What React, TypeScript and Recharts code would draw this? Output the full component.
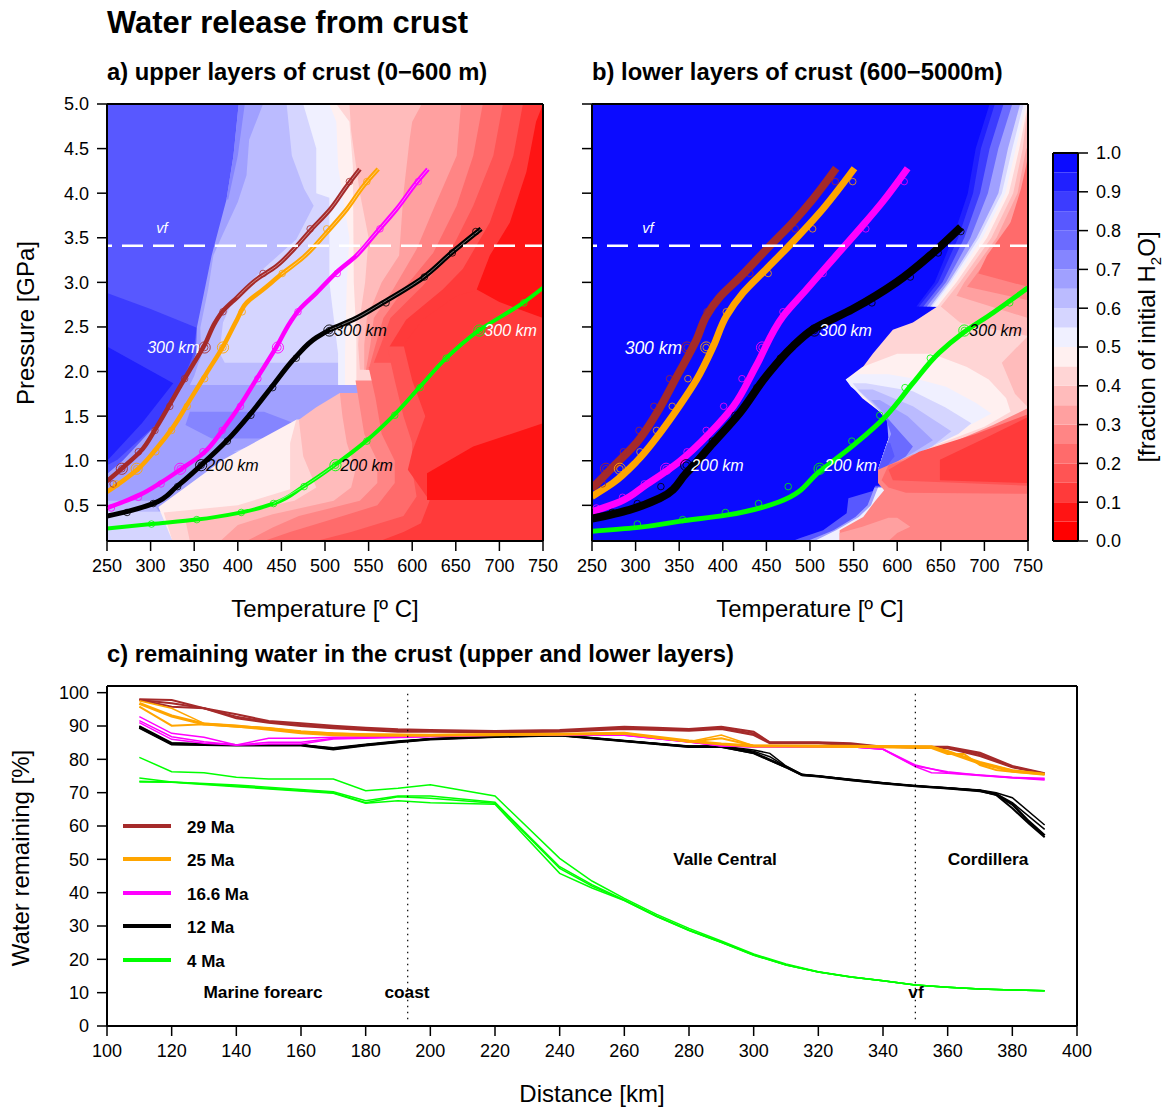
import React from 'react'
import { ComposedChart, Area, Line, Bar, XAxis, YAxis, ReferenceLine, ReferenceDot } from 'recharts'

// colour levels of the scale, bottom (0.0) to top (1.0)
const levels = ['#ff0000', '#ff1414', '#ff3a3a', '#ff5454', '#ff6b6b', '#ff8585', '#ffa0a0', '#ffbbbb', '#ffd5d5', '#fff0f0',
  '#f0f0ff', '#d5d5ff', '#bbbbff', '#a0a0ff', '#8585ff', '#6b6bff', '#5858ff', '#3c3cff', '#2020ff', '#0b0bff']

const tempTicks = [250, 300, 350, 400, 450, 500, 550, 600, 650, 700, 750]
const pressTicks = [0.5, 1, 1.5, 2, 2.5, 3, 3.5, 4, 4.5, 5]
const distTicks = [100, 120, 140, 160, 180, 200, 220, 240, 260, 280, 300, 320, 340, 360, 380, 400]
const waterTicks = [0, 10, 20, 30, 40, 50, 60, 70, 80, 90, 100]
const fractionTicks = [0, 0.1, 0.2, 0.3, 0.4, 0.5, 0.6, 0.7, 0.8, 0.9, 1]

// field regions: [level, rows of [pressure, T from, T to]], painted in this order
type Region = [number, number[][]]
const upperField: Region[] = [
  [16, [[5, 250, 750], [0.1, 250, 750]]],
  [17, [[2.88, 250, 250], [2.7, 250, 300], [2.49, 250, 353], [2.17, 250, 348], [1.8, 250, 333], [1.42, 250, 308], [1.01, 250, 262], [0.95, 250, 250]]],
  [18, [[2.28, 250, 250], [1.87, 250, 326], [1.42, 250, 290], [1.05, 250, 255], [1, 250, 250]]],
  [13, [[5, 401, 750], [4.42, 395, 750], [3.93, 387, 750], [3.3, 370, 750], [2.92, 362, 750], [2.49, 353, 750], [2.2, 352, 750], [1.9, 340, 750], [1.8, 333, 750], [1.42, 308, 750], [1, 268, 750], [0.85, 250, 750], [0.1, 250, 750]]],
  [14, [[5, 401, 408], [4.42, 395, 400], [3.93, 387, 389]]],
  [12, [[5, 429, 750], [4.6, 413, 750], [4.2, 410, 750], [3.9, 400, 750], [3.5, 381, 750], [3.3, 372, 750], [2.92, 366, 750], [2.49, 357, 750], [2.17, 358, 750], [2.1, 355, 750], [1.95, 350, 750], [1.85, 345, 750]]],
  [11, [[5, 456, 750], [4.42, 462, 750], [4.05, 476, 750], [3.86, 487, 750], [3.48, 467, 750], [3.15, 429, 750], [2.81, 395, 750], [2.55, 383, 750], [2.21, 379, 750], [2.1, 385, 750]]],
  [10, [[5, 475, 750], [4.5, 490, 750], [4, 490, 750], [3.95, 505, 750], [3, 505, 750], [2.6, 510, 750], [2.2, 515, 750], [1.85, 515, 750]]],
  [9, [[5, 505, 750], [4.8, 513, 750], [4.3, 515, 750], [3.5, 528, 750], [3, 525, 750], [2.2, 523, 750], [1.85, 523, 750]]],
  [8, [[5, 513, 750], [4.8, 528, 750], [4.3, 532, 750], [3, 533, 750], [2.4, 536, 750], [2.1, 536, 750], [1.85, 536, 750]]],
  [7, [[5, 528, 750], [4.7, 530, 750], [4, 540, 750], [3.5, 550, 750], [3, 546, 750], [2.6, 540, 750], [2.3, 538, 750], [2.02, 540, 750]]],
  [6, [[5, 611, 750], [4.8, 600, 750], [4.6, 597, 750], [4, 590, 750], [3.3, 585, 750], [3, 565, 750], [2.6, 548, 750], [2.3, 545, 750], [2.02, 545, 750]]],
  [5, [[5, 656, 750], [4.42, 651, 750], [3.86, 626, 750], [3.37, 605, 750], [2.92, 578, 750], [2.6, 556, 750], [2.3, 552, 750], [2.02, 547, 750]]],
  [4, [[5, 681, 750], [4.42, 670, 750], [3.86, 651, 750], [3.33, 624, 750], [2.96, 593, 750], [2.6, 567, 750], [2.3, 558, 750], [2.02, 550, 750]]],
  [3, [[5, 704, 750], [4.42, 693, 750], [3.86, 670, 750], [3.33, 643, 750], [2.96, 612, 750], [2.6, 575, 750], [2.3, 564, 750], [2.1, 556, 750]]],
  [2, [[5, 727, 750], [4.42, 716, 750], [3.67, 689, 750], [3.15, 658, 750], [2.92, 635, 750], [2.58, 593, 750], [2.28, 574, 750]]],
  // lower left blues
  [14, [[1.55, 345, 430], [1.4, 340, 470], [1.25, 370, 440]]],
  [12, [[1.4, 470, 470], [1.25, 440, 470], [1.1, 395, 420]]],
  [12, [[0.55, 250, 300], [0.43, 250, 310]]],
  [11, [[0.43, 250, 312], [0.3, 250, 318], [0.1, 250, 325]]],
  // below the front
  [9, [[1.46, 467, 750], [1.01, 383, 750], [0.48, 309, 750], [0.41, 312, 750], [0.1, 325, 750]]],
  [8, [[1.46, 467, 750], [1.2, 460, 750], [0.68, 460, 750], [0.5, 400, 750], [0.42, 315, 750], [0.1, 325, 750]]],
  [7, [[1.76, 517, 750], [1.6, 490, 750], [1.46, 470, 750], [1.05, 475, 750], [0.7, 490, 750], [0.55, 465, 750], [0.42, 400, 750], [0.33, 340, 750], [0.1, 345, 750]]],
  [6, [[1.76, 517, 750], [1.5, 520, 750], [1.2, 525, 750], [0.9, 535, 750], [0.7, 530, 750], [0.55, 510, 750], [0.4, 440, 750], [0.28, 400, 750], [0.1, 380, 750]]],
  [5, [[1.9, 535, 750], [1.6, 540, 750], [1.3, 545, 750], [1, 560, 750], [0.75, 560, 750], [0.55, 540, 750], [0.38, 470, 750], [0.25, 440, 750], [0.1, 410, 750]]],
  [4, [[2.05, 550, 750], [1.7, 558, 750], [1.3, 565, 750], [1, 580, 750], [0.75, 580, 750], [0.5, 560, 750], [0.35, 510, 750], [0.2, 460, 750], [0.1, 430, 750]]],
  [3, [[2.25, 572, 750], [1.9, 580, 750], [1.5, 590, 750], [1.2, 600, 750], [0.9, 600, 750], [0.6, 605, 750], [0.38, 590, 750], [0.2, 530, 750], [0.1, 490, 750]]],
  [2, [[2.9, 670, 670], [2.85, 651, 730], [2.58, 612, 750], [2.3, 590, 750], [1.9, 600, 750], [1.5, 615, 750], [1.1, 600, 750], [0.9, 595, 750], [0.55, 620, 750], [0.3, 610, 750], [0.2, 590, 750], [0.1, 563, 750]]],
  [1, [[5, 750, 750], [4.8, 742, 750], [4.24, 731, 750], [3.67, 712, 750], [3.3, 689, 750], [2.92, 674, 750], [2.78, 700, 750], [2.6, 750, 750]]],
  [1, [[1.42, 750, 750], [1.16, 670, 750], [0.86, 617, 750], [0.56, 617, 750]]],
]

const lowerField: Region[] = [
  [19, [[5, 250, 750], [0.1, 250, 750]]],
  // thin transition along the hot side
  [18, [[5, 706, 750], [4.5, 690, 750], [4, 681, 750], [3.5, 664, 750], [3, 643, 750], [2.73, 622, 750]]],
  [17, [[5, 712, 750], [4.5, 696, 750], [4, 687, 750], [3.5, 670, 750], [3, 647, 750], [2.73, 625, 750]]],
  [15, [[5, 722, 750], [4.5, 706, 750], [4, 695, 750], [3.5, 677, 750], [3, 652, 750], [2.73, 630, 750]]],
  [13, [[5, 732, 750], [4.5, 716, 750], [4, 704, 750], [3.5, 684, 750], [3, 656, 750], [2.73, 634, 750]]],
  [11, [[5, 741, 750], [4.5, 727, 750], [4, 716, 750], [3.5, 691, 750], [3, 659, 750], [2.73, 638, 750]]],
  [10, [[5, 745, 750], [4.5, 732, 750], [4, 720, 750], [3.5, 694, 750], [3, 661, 750], [2.73, 640, 750]]],
  [9, [[5, 748, 750], [4.5, 736, 750], [4, 724, 750], [3.5, 698, 750], [3, 664, 750], [2.73, 643, 750]]],
  [8, [[5, 750, 750], [4.5, 740, 750], [4, 728, 750], [3.5, 703, 750], [3, 668, 750], [2.73, 646, 750], [2.55, 618, 750], [2.47, 595, 750], [2.2, 572, 750], [1.95, 553, 750], [1.91, 543, 750], [1.6, 575, 750], [1.38, 595, 750], [1.16, 587, 750], [0.9, 578, 750]]],
  [7, [[5, 750, 750], [4.5, 744, 750], [4, 733, 750], [3.5, 708, 750], [3, 672, 750], [2.73, 650, 750], [2.55, 672, 750], [2.4, 750, 750]]],
  [7, [[2.4, 750, 750], [2.1, 720, 750], [1.75, 735, 750], [1.6, 750, 750]]],
  [6, [[4.5, 748, 750], [4, 738, 750], [3.5, 714, 750], [3, 677, 750], [2.85, 668, 750], [2.6, 750, 750]]],
  [5, [[4.5, 750, 750], [4, 745, 750], [3.5, 722, 750], [3, 684, 750], [2.95, 680, 750], [2.8, 750, 750]]],
  [4, [[4.4, 750, 750], [4.05, 742, 750], [3.67, 730, 750], [3.3, 703, 750], [3.1, 693, 750], [2.95, 750, 750]]],
  // fan of cooler bands, nested
  [9, [[2.2, 600, 640], [2.05, 560, 680], [1.91, 541, 705], [1.7, 560, 725], [1.55, 580, 730], [1.38, 595, 700], [1.16, 587, 640], [0.9, 578, 585]]],
  [10, [[1.97, 553, 590], [1.91, 541, 625], [1.83, 547, 656], [1.65, 570, 690], [1.53, 582, 708], [1.38, 595, 680], [1.16, 587, 640], [0.9, 578, 585]]],
  [11, [[1.87, 549, 564], [1.78, 556, 618], [1.6, 575, 655], [1.42, 592, 685], [1.3, 592, 670], [1.16, 587, 640], [0.9, 578, 585]]],
  [12, [[1.8, 555, 572], [1.61, 575, 618], [1.42, 592, 648], [1.33, 595, 662], [1.16, 587, 640], [0.9, 578, 585]]],
  [13, [[1.68, 570, 580], [1.5, 588, 612], [1.23, 590, 641], [1.1, 585, 620], [0.9, 578, 585]]],
  [15, [[1.5, 586, 587], [1.3, 593, 605], [1.16, 587, 618], [1.05, 583, 610], [0.9, 578, 585]]],
  [16, [[1.2, 589, 592], [1.05, 584, 597], [0.9, 578, 585]]],
  // small patch at the bottom
  [16, [[0.72, 575, 585], [0.66, 572, 585], [0.58, 544, 585], [0.41, 542, 575], [0.22, 515, 540], [0.13, 488, 534], [0.1, 480, 534]]],
  [13, [[0.7, 574, 585], [0.5, 566, 585], [0.37, 552, 570], [0.22, 527, 540], [0.1, 497, 534]]],
  [10, [[0.7, 578, 585], [0.5, 570, 585], [0.37, 556, 570], [0.22, 530, 540], [0.1, 505, 534]]],
  // reds under the lower front
  [5, [[1.59, 750, 750], [1.4, 710, 750], [1.18, 657, 750], [1.07, 618, 750], [0.9, 578, 750], [0.75, 578, 750], [0.67, 585, 750], [0.55, 575, 750], [0.37, 561, 750], [0.22, 534, 750], [0.1, 534, 750]]],
  [4, [[1.5, 750, 750], [1.3, 700, 750], [1.1, 640, 750], [0.95, 590, 750], [0.78, 582, 750], [0.7, 590, 750], [0.64, 610, 750], [0.63, 750, 750]]],
  [3, [[1.52, 750, 750], [1.3, 690, 750], [1.1, 625, 750], [0.9, 590, 750], [0.78, 595, 750], [0.72, 750, 750]]],
  [2, [[1.49, 750, 750], [1.25, 700, 750], [1.01, 649, 750], [0.78, 649, 750], [0.75, 750, 750]]],
  [6, [[0.36, 590, 600], [0.26, 560, 615], [0.19, 534, 600], [0.1, 534, 590]]],
]

// slab paths, [temperature, pressure]
const upperBrown = [[250, 0.77], [269, 0.93], [288, 1.1], [307, 1.38], [326, 1.7], [345, 2.02], [362, 2.3], [374, 2.55], [383, 2.68], [399, 2.83], [421, 3.03], [444, 3.18], [464, 3.37], [483, 3.58], [506, 3.82], [525, 4.08], [540, 4.27]]
const upperOrange = [[250, 0.65], [269, 0.78], [288, 0.93], [307, 1.14], [326, 1.38], [345, 1.68], [364, 1.98], [383, 2.28], [399, 2.58], [410, 2.77], [429, 2.92], [450, 3.09], [475, 3.28], [502, 3.56], [525, 3.82], [544, 4.08], [561, 4.27]]
const upperMagenta = [[250, 0.47], [269, 0.54], [288, 0.62], [311, 0.75], [334, 0.9], [360, 1.08], [383, 1.35], [402, 1.61], [421, 1.91], [444, 2.27], [460, 2.55], [471, 2.7], [490, 2.88], [513, 3.11], [536, 3.3], [559, 3.56], [582, 3.82], [605, 4.12], [618, 4.27]]
const upperBlack = [[250, 0.38], [273, 0.43], [303, 0.52], [330, 0.71], [358, 0.95], [387, 1.22], [414, 1.52], [439, 1.83], [467, 2.17], [490, 2.38], [506, 2.47], [532, 2.58], [566, 2.77], [612, 3.05], [645, 3.33], [679, 3.6]]
const upperGreen = [[250, 0.24], [301, 0.29], [353, 0.34], [404, 0.42], [441, 0.52], [475, 0.71], [511, 0.95], [547, 1.22], [580, 1.52], [609, 1.83], [639, 2.15], [675, 2.45], [727, 2.77], [750, 2.94]]

const lowerBrown = [[250, 0.69], [274, 0.93], [301, 1.2], [324, 1.53], [347, 1.94], [370, 2.36], [381, 2.62], [396, 2.83], [419, 3.05], [454, 3.41], [480, 3.67], [503, 3.93], [530, 4.28]]
const lowerOrange = [[250, 0.6], [274, 0.75], [301, 0.99], [328, 1.31], [350, 1.61], [370, 1.91], [389, 2.28], [404, 2.62], [423, 2.88], [450, 3.15], [480, 3.45], [511, 3.78], [551, 4.28]]
const lowerMagenta = [[250, 0.43], [282, 0.54], [312, 0.73], [350, 0.99], [385, 1.31], [412, 1.61], [438, 2.06], [469, 2.62], [496, 2.92], [530, 3.3], [557, 3.6], [583, 3.9], [612, 4.28]]
const lowerBlack = [[250, 0.35], [293, 0.45], [328, 0.58], [358, 0.86], [389, 1.2], [419, 1.53], [450, 1.95], [480, 2.28], [503, 2.47], [549, 2.7], [599, 3], [641, 3.33], [673, 3.62]]
const lowerGreen = [[250, 0.21], [301, 0.25], [350, 0.32], [404, 0.39], [465, 0.54], [511, 0.88], [553, 1.2], [587, 1.5], [618, 1.87], [648, 2.21], [675, 2.43], [710, 2.66], [750, 2.94]]

// stretches of panel a where the bundle of paths opens up
const upperOpenings = [upperBrown.slice(9), upperOrange.slice(11), upperMagenta.slice(14), upperBlack.slice(10), upperGreen.slice(4, 7)]

// depth markers on each path
const upperBrownRings = [[257, 0.74], [267, 0.91], [286, 1.1], [305, 1.34], [322, 1.61], [339, 1.92], [362, 2.27], [383, 2.67], [429, 3.1], [483, 3.6], [528, 4.13]]
const upperOrangeRings = [[261, 0.74], [284, 0.91], [306, 1.1], [324, 1.34], [342, 1.61], [362, 1.92], [383, 2.27], [405, 2.67], [451, 3.1], [502, 3.6], [548, 4.13]]
const upperMagentaRings = [[255, 0.47], [286, 0.59], [312, 0.74], [334, 0.91], [360, 1.1], [382, 1.34], [403, 1.61], [423, 1.92], [446, 2.27], [469, 2.67], [514, 3.1], [563, 3.6], [607, 4.13]]
const upperBlackRings = [[273, 0.42], [303, 0.52], [331, 0.71], [358, 0.95], [388, 1.22], [415, 1.51], [440, 1.82], [467, 2.15], [505, 2.46], [570, 2.77], [614, 3.06], [646, 3.33], [673, 3.57]]
const upperGreenRings = [[301, 0.29], [353, 0.34], [404, 0.42], [441, 0.52], [476, 0.71], [512, 0.95], [548, 1.22], [580, 1.51], [609, 1.82], [639, 2.15], [677, 2.46], [728, 2.77]]
const upperBig = [[[267, 0.91], [362, 2.27]], [[284, 0.91], [383, 2.27]], [[334, 0.91], [446, 2.27]], [[358, 0.95], [505, 2.46]], [[512, 0.95], [677, 2.46]]]

const lowerBrownRings = [[262, 0.74], [266, 0.91], [286, 1.1], [304, 1.34], [321, 1.61], [339, 1.92], [359, 2.27], [382, 2.67], [431, 3.1], [483, 3.6], [529, 4.13]]
const lowerOrangeRings = [[282, 0.91], [305, 1.1], [324, 1.34], [342, 1.61], [360, 1.92], [381, 2.27], [404, 2.67], [452, 3.1], [503, 3.6], [549, 4.13]]
const lowerMagentaRings = [[255, 0.47], [285, 0.59], [310, 0.74], [335, 0.91], [359, 1.1], [381, 1.34], [401, 1.61], [422, 1.92], [445, 2.27], [469, 2.67], [515, 3.1], [564, 3.6], [608, 4.13]]
const lowerBlackRings = [[273, 0.42], [302, 0.52], [329, 0.71], [358, 0.95], [388, 1.22], [414, 1.51], [439, 1.82], [466, 2.15], [505, 2.46], [571, 2.77], [615, 3.06], [647, 3.33], [673, 3.57]]
const lowerGreenRings = [[302, 0.29], [354, 0.34], [403, 0.42], [441, 0.52], [475, 0.71], [511, 0.91], [548, 1.22], [580, 1.51], [609, 1.82], [638, 2.15], [677, 2.46], [729, 2.77]]
const lowerBig = [[[266, 0.91], [359, 2.27]], [[282, 0.91], [381, 2.27]], [[335, 0.91], [445, 2.27]], [[358, 0.95], [505, 2.46]], [[511, 0.91], [677, 2.46]]]

// panel c, [distance, water %]
const green1 = [[110, 80.6], [120, 76.3], [130, 76], [140, 74.6], [150, 74.1], [170, 74.1], [180, 70.6], [190, 71.3], [200, 72.4], [220, 69], [240, 50.3], [250, 43.5], [260, 38.3], [270, 33.5], [280, 29.3], [290, 25.5], [300, 21.6], [310, 18.6], [320, 16.3], [330, 14.8], [340, 13.6], [350, 12.3], [360, 11.6], [370, 11.1], [380, 10.8], [390, 10.6]]
const green2 = [[110, 74.4], [120, 73.2], [140, 72.3], [170, 70.3], [180, 67.6], [190, 69], [200, 69], [220, 67.1], [240, 47.8], [250, 42.4], [260, 37.8], [270, 33], [280, 28.8], [290, 25.2], [300, 21.4], [310, 18.4], [320, 16.2], [330, 14.7], [340, 13.6], [350, 12.3], [360, 11.6], [370, 11.1], [380, 10.8], [390, 10.6]]
const green3 = [[110, 73.2], [120, 73.1], [140, 71.8], [170, 69.8], [180, 66.8], [190, 67.6], [200, 67], [220, 66.5], [240, 45.8], [250, 41.4], [260, 37.6], [270, 32.8], [280, 28.6], [290, 25], [300, 21.2], [310, 18.3], [320, 16.2], [330, 14.7], [340, 13.6], [350, 12.3], [360, 11.6], [370, 11.1], [380, 10.8], [390, 10.6]]
const green4 = [[110, 73.4], [120, 73.2], [140, 72], [170, 70], [180, 67], [190, 68.8], [200, 68.3], [220, 66.8], [240, 47.3], [250, 42], [260, 37.7], [270, 32.9], [280, 28.7], [290, 25.1], [300, 21.3], [310, 18.3], [320, 16.2], [330, 14.7], [340, 13.6], [350, 12.3], [360, 11.6], [370, 11.1], [380, 10.8], [390, 10.6]]
const black1 = [[110, 89.6], [120, 84.6], [140, 84.3], [160, 84.3], [170, 83.1], [180, 84.3], [190, 85.2], [200, 86.1], [220, 86.8], [240, 87.2], [260, 85.5], [280, 83.8], [290, 83.8], [300, 81.8], [310, 77.6], [315, 75.3], [320, 74.9], [330, 73.8], [340, 72.8], [350, 72], [360, 71.3], [370, 70.6], [375, 69.3], [380, 65.3], [385, 60.8], [390, 56.6]]
const black2 = [[110, 90], [120, 85], [140, 84.4], [160, 84.4], [170, 83.5], [180, 84.5], [190, 85.5], [200, 86.2], [220, 86.9], [240, 87.2], [260, 85.6], [280, 84], [290, 84], [300, 82.8], [305, 81.8], [310, 78], [315, 75.5], [320, 75], [330, 74], [340, 73], [350, 72], [360, 71.5], [370, 70.8], [375, 70], [380, 68.5], [390, 60.3]]
const black3 = [[110, 89.8], [120, 84.8], [140, 84.3], [160, 84.3], [170, 83.3], [180, 84.4], [190, 85.3], [200, 86.1], [220, 86.9], [240, 87.2], [260, 85.5], [280, 83.9], [290, 83.9], [300, 82.4], [305, 80.8], [310, 77.8], [315, 75.4], [320, 74.9], [330, 73.9], [340, 72.9], [350, 72], [360, 71.4], [370, 70.7], [375, 69.7], [380, 67], [390, 59]]
const black4 = [[110, 89.5], [120, 84.5], [140, 84.2], [160, 84.2], [170, 83], [180, 84.2], [190, 85.2], [200, 86], [220, 86.8], [240, 87.2], [260, 85.5], [280, 83.8], [290, 83.8], [300, 82], [310, 77.7], [315, 75.3], [320, 74.9], [330, 73.8], [340, 72.8], [350, 72], [360, 71.3], [370, 70.5], [375, 69.5], [380, 66.5], [385, 61.5], [390, 57.2]]
const magenta1 = [[110, 92.8], [120, 87.8], [130, 86.6], [140, 84.3], [150, 86.3], [160, 86.3], [170, 86.6], [200, 87], [220, 87.3], [260, 87.3], [280, 85.3], [290, 84.1], [300, 83.8], [330, 83.8], [340, 83.1], [350, 78.3], [360, 76], [370, 75.3], [380, 74.6], [390, 74.3]]
const magenta2 = [[110, 91.6], [120, 86.8], [130, 85.3], [140, 84.3], [150, 85.1], [160, 85.1], [170, 86.3], [200, 86.9], [220, 87.2], [260, 87.2], [280, 85.2], [290, 84.1], [300, 83.8], [330, 83.8], [340, 83], [350, 77.8], [355, 76], [360, 75.8], [390, 73.8]]
const magenta3 = [[110, 91], [120, 86], [130, 84.8], [140, 84.3], [150, 84.6], [160, 84.6], [170, 86.1], [200, 86.8], [220, 87.2], [260, 87.2], [280, 85.2], [290, 84], [300, 83.8], [330, 83.8], [340, 83], [350, 78], [360, 76.3], [370, 75.2], [380, 74.5], [390, 74]]
const brown1 = [[110, 98], [120, 97.8], [130, 95.3], [140, 93.5], [150, 91.5], [160, 90.8], [170, 90.1], [180, 89.5], [190, 89], [200, 88.8], [220, 88.5], [240, 88.8], [260, 89.8], [270, 89.5], [280, 89.1], [290, 89.8], [300, 88.3], [305, 85.1], [320, 85.1], [330, 84.8], [340, 83.8], [360, 83.8], [370, 82], [380, 78], [390, 75.8]]
const brown2 = [[110, 97.8], [120, 96.8], [130, 95.3], [140, 92.3], [150, 91], [160, 90], [170, 89.3], [180, 88.8], [190, 88.3], [200, 88.3], [220, 88.1], [240, 88.3], [260, 89.1], [280, 88.6], [290, 89.1], [300, 87.3], [305, 84.8], [320, 84.8], [340, 83.8], [360, 83.3], [370, 81], [380, 77.6], [390, 75.6]]
const brown3 = [[110, 97.9], [120, 95.8], [130, 95.3], [140, 92.8], [150, 91.2], [160, 90.4], [170, 89.7], [180, 89.1], [190, 88.6], [200, 88.5], [220, 88.3], [240, 88.5], [260, 89.5], [280, 88.8], [290, 89.4], [300, 87.8], [305, 85], [320, 85], [340, 83.8], [360, 83.5], [370, 81.5], [380, 77.8], [390, 75.7]]
const orange1 = [[110, 97.6], [120, 95.3], [130, 90.8], [140, 90.1], [150, 89.5], [160, 88.5], [170, 87.8], [180, 87.5], [200, 87.3], [220, 87.5], [240, 87.5], [260, 87.8], [280, 85.3], [290, 87.3], [300, 84.1], [310, 84], [355, 83.8], [360, 82.6], [370, 79.3], [380, 76.8], [390, 75.6]]
const orange2 = [[110, 95.8], [120, 90.1], [130, 90.5], [140, 89.8], [150, 89.3], [160, 88.3], [170, 87.8], [180, 87.5], [200, 87.3], [220, 87.5], [240, 87.5], [260, 87.8], [280, 85.3], [290, 86.3], [300, 84.1], [310, 84], [355, 83.4], [360, 81.6], [365, 81.6], [370, 78.3], [375, 76.8], [380, 76.3], [390, 75.5]]
const orange3 = [[110, 96.8], [120, 93], [130, 90.6], [140, 90], [150, 89], [160, 88], [170, 87.4], [180, 87.2], [200, 87.2], [220, 87.4], [240, 87.5], [260, 87.8], [280, 85.5], [290, 84.6], [300, 84], [310, 84], [355, 83.8], [360, 82.2], [370, 78.8], [380, 76.5], [390, 75.5]]

const ageNames = ['29 Ma', '25 Ma', '16.6 Ma', '12 Ma', '4 Ma']
const ageColors = ['#a52a2a', '#ffa500', '#ff00ff', '#000000', '#00ff00']

const colourBands = [Object.fromEntries(levels.map((_, i) => ['b' + i, 0.05]))]

const axisLine = { stroke: '#000', strokeWidth: 2 }
const tickLine = { stroke: '#000', strokeWidth: 1.5 }
const tickFont = { fontSize: 18, fill: '#000' }
const blank = () => ''
const xy = (pts: number[][]) => pts.map(([t, p]) => ({ t, p }))

function Txt({ x, y, size, bold, rotate, center, children }: any) {
  return (
    <div style={{
      position: 'absolute', left: x, top: y, fontSize: size, fontWeight: bold ? 700 : 400, whiteSpace: 'nowrap', lineHeight: 1,
      transform: (center ? 'translate(-50%,-50%)' : 'translateY(-50%)') + (rotate ? ' rotate(-90deg)' : ''),
    }}>{children}</div>
  )
}

const kmLabel = (value: string, position: string, fill: string, fontSize = 16) =>
  ({ value, position, fill, fontSize, fontStyle: 'italic', offset: 5 })

function HeatPanel({ left, yWidth, showY, field, paths, widths, openings, rings, big, labels }: any) {
  const plotW = 436
  return (
    <div style={{ position: 'absolute', left, top: 74 }}>
      <ComposedChart layout="vertical" width={yWidth + plotW + 20} height={527} margin={{ top: 0, right: 0, bottom: 0, left: 0 }}>
        {field.map(([lvl, rows]: Region, i: number) => (
          <Area key={i} data={rows.map(([p, a, b]) => ({ p, band: [a, b] }))} dataKey="band" type="linear" stroke="none"
            fill={levels[lvl]} fillOpacity={1} dot={false} activeDot={false} isAnimationActive={false} />
        ))}
        {paths.map((pts: number[][], i: number) => (
          <Line key={i} data={xy(pts)} dataKey="t" type="monotone" stroke={ageColors[i]} strokeWidth={widths[i]} dot={false} activeDot={false} isAnimationActive={false} />
        ))}
        {openings.map((pts: number[][], i: number) => (
          <Line key={i} data={xy(pts)} dataKey="t" type="monotone" stroke="#fff" strokeOpacity={0.55} strokeWidth={0.8} dot={false} activeDot={false} isAnimationActive={false} />
        ))}
        {rings.map((pts: number[][], i: number) => (
          <Line key={i} data={xy(pts)} dataKey="t" stroke="none" isAnimationActive={false} activeDot={false}
            dot={{ r: 3.3, fill: 'none', stroke: ageColors[i], strokeWidth: 0.8 }} />
        ))}
        {big.map((pts: number[][], i: number) => (
          <Line key={i} data={xy(pts)} dataKey="t" stroke="none" isAnimationActive={false} activeDot={false}
            dot={{ r: 5.6, fill: 'none', stroke: ageColors[i], strokeWidth: 0.9 }} />
        ))}
        <ReferenceLine y={3.41} stroke="#fff" strokeWidth={2.5} strokeDasharray="21 10" strokeDashoffset={16} />
        {labels.map((l: any, i: number) => (
          <ReferenceDot key={i} x={l.t} y={l.p} r={0} fill="none" stroke="none" label={l.label} />
        ))}
        <XAxis type="number" domain={[250, 750]} ticks={tempTicks} height={60} interval={0} allowDataOverflow tickSize={10} tickMargin={8} axisLine={axisLine} tickLine={tickLine} tick={tickFont} />
        <XAxis xAxisId="top" orientation="top" type="number" domain={[250, 750]} ticks={tempTicks} height={30} interval={0} tickSize={10} tickFormatter={blank} axisLine={axisLine} tickLine={tickLine} />
        <YAxis reversed type="number" dataKey="p" domain={[0.1, 5]} ticks={pressTicks} width={yWidth} interval={0} allowDataOverflow tickSize={10} tickMargin={8} axisLine={axisLine} tickLine={tickLine} tick={tickFont}
          tickFormatter={showY ? (v: number) => v.toFixed(1) : blank} />
        <YAxis reversed yAxisId="right" orientation="right" type="number" domain={[0.1, 5]} ticks={pressTicks} width={20} interval={0} tickSize={10} tickFormatter={blank} axisLine={axisLine} tickLine={tickLine} />
      </ComposedChart>
    </div>
  )
}

const waterLines: [number[][], string, number][] = [
  [green1, ageColors[4], 1.5], [green2, ageColors[4], 1.5], [green3, ageColors[4], 1.5], [green4, ageColors[4], 1.5],
  [black1, ageColors[3], 2], [black2, ageColors[3], 1.5], [black3, ageColors[3], 1.5], [black4, ageColors[3], 2.5],
  [magenta1, ageColors[2], 1.5], [magenta2, ageColors[2], 1.5], [magenta3, ageColors[2], 1.5],
  [brown1, ageColors[0], 2], [brown2, ageColors[0], 2], [brown3, ageColors[0], 2],
  [orange1, ageColors[1], 1.5], [orange2, ageColors[1], 2], [orange3, ageColors[1], 3],
]

export default function App() {
  const upperLabels = [
    { t: 362, p: 2.27, label: kmLabel('300 km', 'left', '#fff') },
    { t: 358, p: 0.95, label: kmLabel('200 km', 'right', '#000') },
    { t: 505, p: 2.46, label: kmLabel('300 km', 'right', '#000') },
    { t: 512, p: 0.95, label: kmLabel('200 km', 'right', '#000') },
    { t: 677, p: 2.46, label: kmLabel('300 km', 'right', '#fff') },
    { t: 313, p: 3.61, label: kmLabel('vf', 'center', '#fff', 14.5) },
  ]
  const lowerLabels = [
    { t: 359, p: 2.27, label: kmLabel('300 km', 'left', '#fff', 17.5) },
    { t: 358, p: 0.95, label: kmLabel('200 km', 'right', '#fff') },
    { t: 505, p: 2.46, label: kmLabel('300 km', 'right', '#fff') },
    { t: 511, p: 0.95, label: kmLabel('200 km', 'right', '#fff') },
    { t: 677, p: 2.46, label: kmLabel('300 km', 'right', '#000') },
    { t: 314, p: 3.61, label: kmLabel('vf', 'center', '#fff', 14.5) },
  ]
  return (
    <div style={{ position: 'absolute', left: 0, top: 0, width: 1163, height: 1107, fontFamily: '"Liberation Sans", Arial, sans-serif', color: '#000', background: '#fff', overflow: 'hidden' }}>
      <HeatPanel left={0} yWidth={107} showY field={upperField}
        paths={[upperBrown, upperOrange, upperMagenta, upperBlack, upperGreen]} widths={[4.5, 4.5, 4.5, 5, 4]} openings={upperOpenings}
        rings={[upperBrownRings, upperOrangeRings, upperMagentaRings, upperBlackRings, upperGreenRings]} big={upperBig} labels={upperLabels} />
      <HeatPanel left={532} yWidth={60} showY={false} field={lowerField}
        paths={[lowerBrown, lowerOrange, lowerMagenta, lowerBlack, lowerGreen]} widths={[8, 7, 7, 8, 5]} openings={[]}
        rings={[lowerBrownRings, lowerOrangeRings, lowerMagentaRings, lowerBlackRings, lowerGreenRings]} big={lowerBig} labels={lowerLabels} />

      <div style={{ position: 'absolute', left: 1043, top: 133 }}>
        <ComposedChart width={120} height={428} data={colourBands} barCategoryGap={0} margin={{ top: 0, right: 0, bottom: 0, left: 0 }}>
          {levels.map((c, i) => (
            <Bar key={i} yAxisId="right" dataKey={'b' + i} stackId="s" fill={c} isAnimationActive={false} />
          ))}
          <XAxis height={20} tick={false} tickLine={false} axisLine={axisLine} />
          <XAxis xAxisId="top" orientation="top" height={20} tick={false} tickLine={false} axisLine={axisLine} />
          <YAxis type="number" domain={[0, 1]} width={10} ticks={[0, 1]} tickFormatter={blank} tickLine={false} axisLine={axisLine} />
          <YAxis yAxisId="right" type="number" orientation="right" domain={[0, 1]} ticks={fractionTicks} interval={0} width={85} tickSize={10} tickMargin={8} axisLine={axisLine} tickLine={tickLine} tick={tickFont} tickFormatter={(v: number) => v.toFixed(1)} />
        </ComposedChart>
      </div>

      <div style={{ position: 'absolute', left: 0, top: 656 }}>
        <ComposedChart width={1097} height={430} margin={{ top: 0, right: 0, bottom: 0, left: 0 }}>
          {waterLines.map(([pts, color, w], i) => (
            <Line key={i} data={pts.map(([d, v]) => ({ d, v }))} dataKey="v" type="linear" stroke={color} strokeWidth={w} dot={false} activeDot={false} isAnimationActive={false} />
          ))}
          <ReferenceLine segment={[{ x: 193, y: 2 }, { x: 193, y: 100 }]} stroke="#000" strokeWidth={1.2} strokeDasharray="1.5 4.5" />
          <ReferenceLine segment={[{ x: 350, y: 2 }, { x: 350, y: 100 }]} stroke="#000" strokeWidth={1.2} strokeDasharray="1.5 4.5" />
          <XAxis type="number" dataKey="d" domain={[100, 400]} ticks={distTicks} interval={0} height={60} tickSize={10} tickMargin={8} axisLine={axisLine} tickLine={tickLine} tick={tickFont} />
          <XAxis xAxisId="top" orientation="top" type="number" domain={[100, 400]} ticks={distTicks} interval={0} height={30} tickSize={10} tickFormatter={blank} axisLine={axisLine} tickLine={tickLine} />
          <YAxis type="number" domain={[0, 102]} ticks={waterTicks} interval={0} width={107} tickSize={10} tickMargin={8} axisLine={axisLine} tickLine={tickLine} tick={tickFont} />
          <YAxis yAxisId="right" orientation="right" type="number" domain={[0, 102]} ticks={waterTicks} interval={0} width={20} tickSize={10} tickFormatter={blank} axisLine={axisLine} tickLine={tickLine} />
        </ComposedChart>
      </div>

      {ageNames.map((name, i) => (
        <React.Fragment key={name}>
          <div style={{ position: 'absolute', left: 123, top: 826 + i * 33.4 - 2, width: 48, height: 4, background: ageColors[i] }} />
          <Txt x={187} y={827 + i * 33.4} size={17} bold>{name}</Txt>
        </React.Fragment>
      ))}
      <Txt x={263} y={993} size={17.3} bold center>Marine forearc</Txt>
      <Txt x={407} y={993} size={17.3} bold center>coast</Txt>
      <Txt x={916} y={993} size={17.3} bold center>vf</Txt>
      <Txt x={725} y={860} size={17.3} bold center>Valle Central</Txt>
      <Txt x={988} y={860} size={17.3} bold center>Cordillera</Txt>

      <Txt x={107} y={23} size={30.9} bold>Water release from crust</Txt>
      <Txt x={107} y={72} size={23.8} bold>a) upper layers of crust (0−600 m)</Txt>
      <Txt x={592} y={72} size={23.8} bold>b) lower layers of crust (600−5000m)</Txt>
      <Txt x={107} y={654} size={23.8} bold>c) remaining water in the crust (upper and lower layers)</Txt>
      <Txt x={325} y={609} size={24} center>Temperature [º C]</Txt>
      <Txt x={810} y={609} size={24} center>Temperature [º C]</Txt>
      <Txt x={592} y={1094} size={24} center>Distance [km]</Txt>
      <Txt x={26} y={323} size={24} center rotate>Pressure [GPa]</Txt>
      <Txt x={21} y={858} size={24} center rotate>Water remaining [%]</Txt>
      <Txt x={1147} y={347} size={24} center rotate>[fraction of initial H<sub style={{ fontSize: 15, lineHeight: 0 }}>2</sub>O]</Txt>
    </div>
  )
}
